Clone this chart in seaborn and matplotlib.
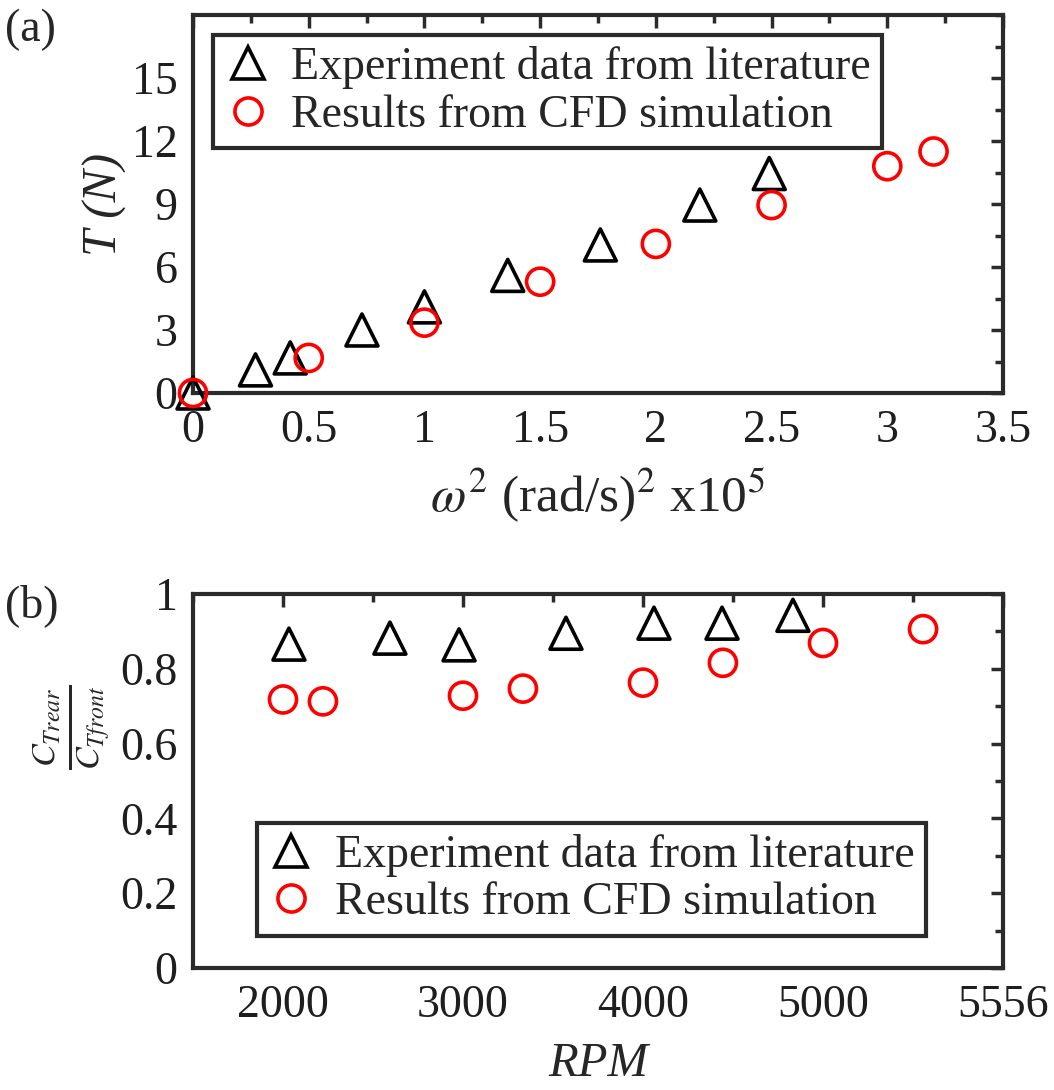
import matplotlib
matplotlib.use("Agg")
import matplotlib.pyplot as plt
import seaborn as sns
import pandas as pd
from matplotlib.lines import Line2D
from matplotlib.ticker import MultipleLocator

# ---- data: panel (a) ----
exp_w2 = [0.0, 0.27, 0.42, 0.73, 1.0, 1.36, 1.76, 2.19, 2.49]
exp_T = [0.0, 1.1, 1.67, 3.0, 4.1, 5.6, 7.05, 8.95, 10.45]
cfd_w2 = [0.0, 0.5, 1.0, 1.5, 2.0, 2.5, 3.0, 3.2]
cfd_T = [0.0, 1.67, 3.35, 5.3, 7.1, 8.95, 10.8, 11.5]

# ---- data: panel (b) ----
exp_rpm = [2033, 2594, 2978, 3572, 4061, 4439, 4833]
exp_ratio = [0.866, 0.882, 0.864, 0.895, 0.922, 0.922, 0.943]
cfd_rpm = [2000, 2222, 3000, 3333, 4000, 4444, 5000, 5556]
cfd_ratio = [0.718, 0.713, 0.728, 0.747, 0.763, 0.816, 0.869, 0.906]

xticks_b = [2000, 3000, 4000, 5000, 6000]
xticklabels_b = ["2000", "3000", "4000", "5000", "5556"]

leg_labels = ["Experiment data from literature", "Results from CFD simulation"]

sns.set_theme(style="white")
plt.rcParams["font.family"] = ["Liberation Serif", "DejaVu Serif"]
plt.rcParams["mathtext.fontset"] = "stix"

FS = 33
SPINE = "#2b2b2b"
RED = "#ff0000"

fig = plt.figure(figsize=(10.54, 10.90), dpi=100)
W, H = 1054, 1090
ax1 = fig.add_axes([193 / W, 1 - 393 / H, 810 / W, 378 / H])
ax2 = fig.add_axes([193 / W, 1 - 968 / H, 810 / W, 374 / H])

df_ea = pd.DataFrame({"x": exp_w2, "y": exp_T})
df_ca = pd.DataFrame({"x": cfd_w2, "y": cfd_T})
df_eb = pd.DataFrame({"x": exp_rpm, "y": exp_ratio})
df_cb = pd.DataFrame({"x": cfd_rpm, "y": cfd_ratio})

TRI_MS = 23
CIR_MS = 19.5
LW = 2.6
for ax, de, dc in [(ax1, df_ea, df_ca), (ax2, df_eb, df_cb)]:
    sns.scatterplot(data=de, x="x", y="y", ax=ax, marker="^", s=TRI_MS ** 2,
                    facecolor="none", edgecolor="black", linewidth=LW,
                    zorder=3, legend=False, clip_on=False)
    sns.scatterplot(data=dc, x="x", y="y", ax=ax, marker="o", s=CIR_MS ** 2,
                    facecolor="none", edgecolor=RED, linewidth=LW,
                    zorder=4, legend=False, clip_on=False)

def style(ax):
    for sp in ax.spines.values():
        sp.set_visible(True)
        sp.set_color(SPINE)
        sp.set_linewidth(3.0)
        sp.set_zorder(2)
    ax.tick_params(which="both", direction="in", top=True, right=True,
                   color=SPINE, labelsize=FS, labelcolor="#1e1e1e")
    ax.tick_params(which="major", length=9, width=2.5)
    ax.tick_params(which="minor", length=6, width=2.5)
    ax.tick_params(axis="x", which="major", pad=12)
    ax.tick_params(axis="y", which="major", pad=11)
    ax.grid(False)

# panel a
ax1.set_xlim(0, 3.5)
ax1.set_ylim(0, 18)
ax1.set_xticks([0, 0.5, 1, 1.5, 2, 2.5, 3, 3.5])
ax1.set_xticklabels(["0", "0.5", "1", "1.5", "2", "2.5", "3", "3.5"])
ax1.set_yticks([0, 3, 6, 9, 12, 15])
ax1.xaxis.set_minor_locator(MultipleLocator(0.25))
ax1.yaxis.set_minor_locator(MultipleLocator(1.5))
style(ax1)
ax1.set_xlabel(r"$\omega^2$ (rad/s)$^2$ x10$^5$", fontsize=37)
ax1.xaxis.set_label_coords(0.5, -0.19)
ax1.set_ylabel("T (N)", fontsize=35, fontstyle="italic")
ax1.yaxis.set_label_coords(-0.082, 0.5)

# panel b
ax2.set_xlim(1500, 6000)
ax2.set_ylim(0, 1)
ax2.set_xticks(xticks_b)
ax2.set_xticklabels(xticklabels_b)
ax2.set_yticks([0, 0.2, 0.4, 0.6, 0.8, 1.0])
ax2.set_yticklabels(["0", "0.2", "0.4", "0.6", "0.8", "1"])
ax2.xaxis.set_minor_locator(MultipleLocator(500))
ax2.yaxis.set_minor_locator(MultipleLocator(0.1))
style(ax2)
ax2.set_xlabel("RPM", fontsize=35, fontstyle="italic")
ax2.xaxis.set_label_coords(0.5, -0.198)
ax2.set_ylabel(r"$\frac{C_{Trear}}{C_{Tfront}}$", fontsize=35)
ax2.yaxis.set_label_coords(-0.1, 0.644)

handles = [
    Line2D([], [], linestyle="none", marker="^", markersize=TRI_MS,
           markerfacecolor="none", markeredgecolor="black", markeredgewidth=LW),
    Line2D([], [], linestyle="none", marker="o", markersize=CIR_MS,
           markerfacecolor="none", markeredgecolor=RED, markeredgewidth=LW),
]
for ax, anchor, loc in [(ax1, (0.025, 0.947), "upper left"),
                        (ax2, (0.079, 0.086), "lower left")]:
    leg = ax.legend(handles, leg_labels, loc=loc, bbox_to_anchor=anchor,
                    fontsize=FS, frameon=True, fancybox=False,
                    borderaxespad=0, handletextpad=0.45, handlelength=1.0,
                    borderpad=0.25, labelspacing=0.1)
    fr = leg.get_frame()
    fr.set_edgecolor(SPINE)
    fr.set_linewidth(3.0)
    fr.set_facecolor("white")
    fr.set_alpha(1)

fig.text(5 / W, 1 - 30 / H, "(a)", fontsize=FS, va="center", ha="left")
fig.text(5 / W, 1 - 606 / H, "(b)", fontsize=FS, va="center", ha="left")

fig.savefig("out.png", dpi=100)
